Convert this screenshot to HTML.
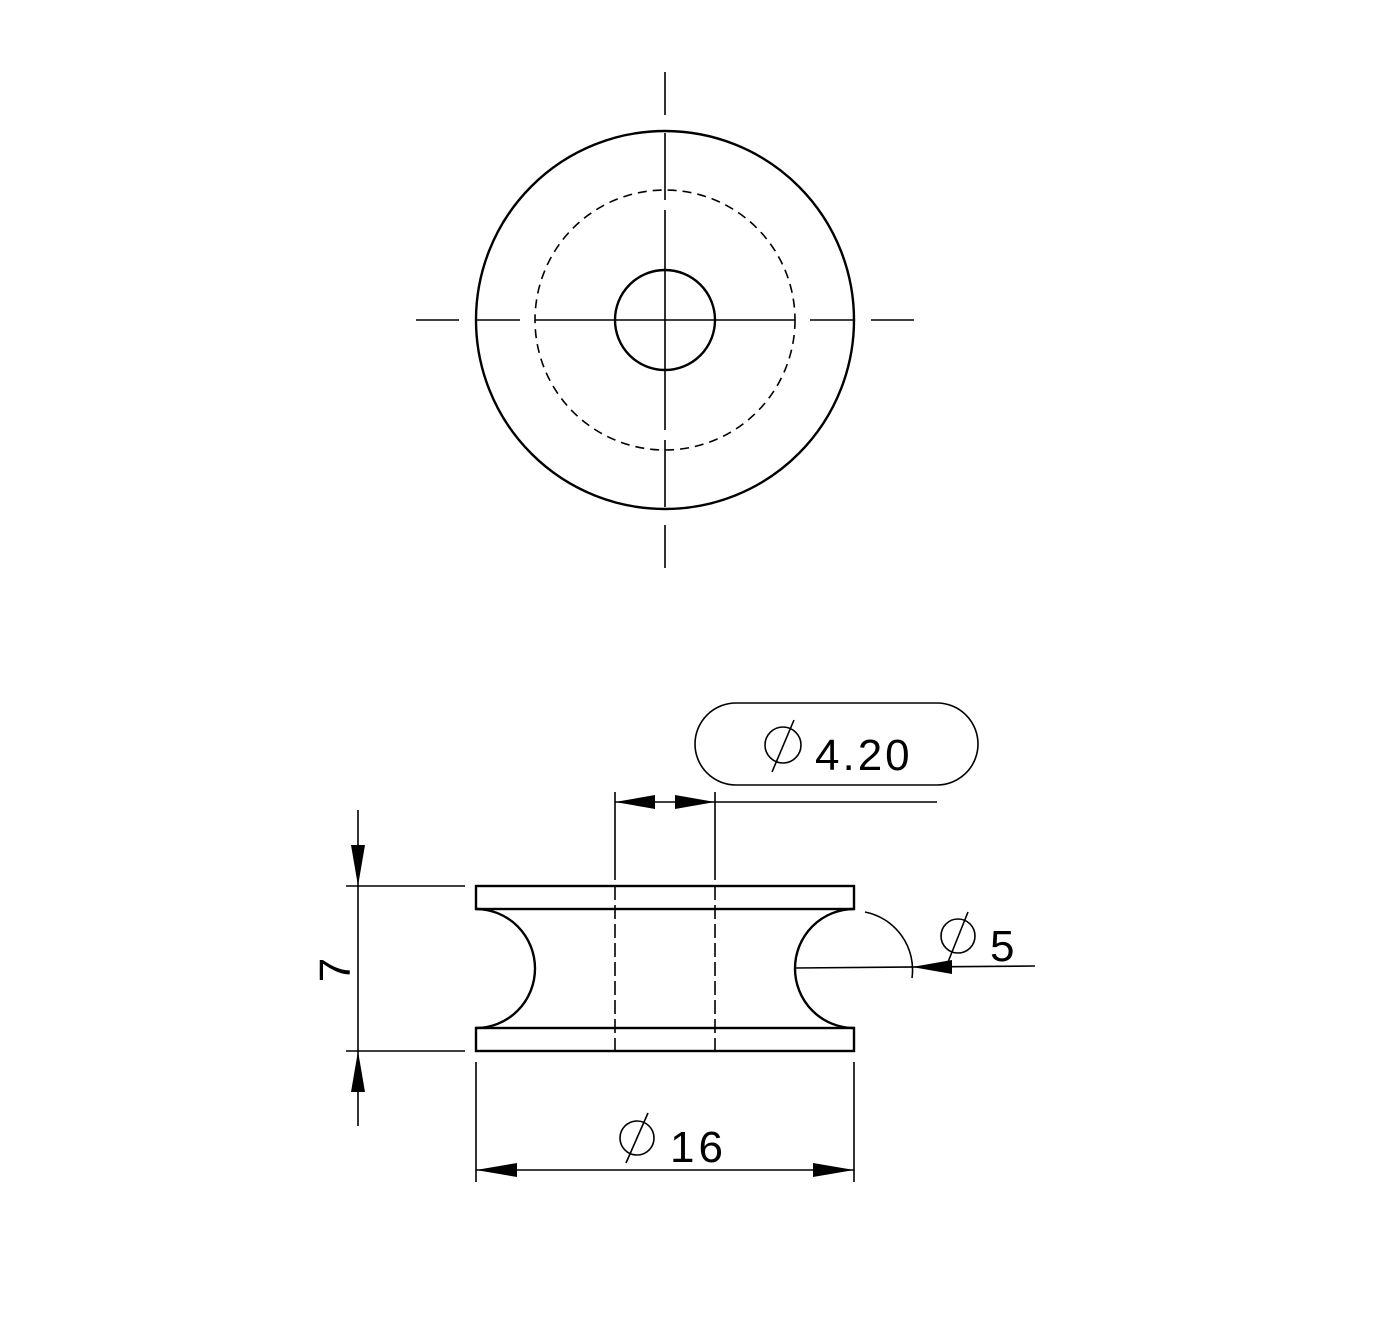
<!DOCTYPE html>
<html><head><style>html,body{margin:0;padding:0;background:#fff}svg{display:block}</style></head><body>
<svg width="1378" height="1326" viewBox="0 0 1378 1326" xmlns="http://www.w3.org/2000/svg" font-family="'Liberation Sans',sans-serif">
<g fill="none" stroke="#000" stroke-width="2.4">
<circle cx="665" cy="320" r="189"/>
<circle cx="665" cy="320" r="130" stroke-dasharray="9 6" stroke-width="1.6"/>
<circle cx="665" cy="320" r="50"/>
<g stroke-width="1.6">
<path d="M665 72V115M665 133V200M665 210V430M665 440V507M665 525V568"/>
<path d="M416 320H459M477 320H520M535 320H795M810 320H853M871 320H914"/>
</g>
<rect x="476" y="886" width="378" height="23"/>
<rect x="476" y="1028" width="378" height="23"/>
<path d="M476 909A59 59.5 0 0 1 476 1028"/>
<path d="M854 909A59 59.5 0 0 0 854 1028"/>
<g stroke-width="1.6">
<path d="M615 886V1051M715 886V1051" stroke-dasharray="14 5"/>
<path d="M615 792V880M715 792V880"/>
<path d="M615 802H937"/>
<path d="M346 886H465M346 1051H465M358 810V1126"/>
<path d="M476 1062V1182M854 1062V1182M476 1170H854"/>
<path d="M865 912A59 59 0 0 1 912 978"/>
<path d="M795 968L1035 966"/>
<rect x="695" y="703" width="283" height="82" rx="41"/>
<circle cx="783" cy="745" r="18"/><path d="M794 720L772 772"/>
<circle cx="958" cy="936" r="17"/><path d="M968 912L948 962"/>
<circle cx="637" cy="1138" r="17"/><path d="M648 1113L626 1163"/>
</g>
</g>
<g fill="#000">
<path d="M615 802L655 795V809Z"/>
<path d="M715 802L675 795V809Z"/>
<path d="M358 886L351 845H365Z"/>
<path d="M358 1051L351 1092H365Z"/>
<path d="M476 1170L517 1163V1177Z"/>
<path d="M854 1170L813 1163V1177Z"/>
<path d="M912 967L952 960V974Z"/>
</g>
<g font-size="44" fill="#000">
<text x="815" y="770" letter-spacing="3">4.20</text>
<text x="990" y="961">5</text>
<text x="670" y="1162" letter-spacing="4">16</text>
<text transform="translate(350 970) rotate(-90)" text-anchor="middle">7</text>
</g>
</svg>
</body></html>
